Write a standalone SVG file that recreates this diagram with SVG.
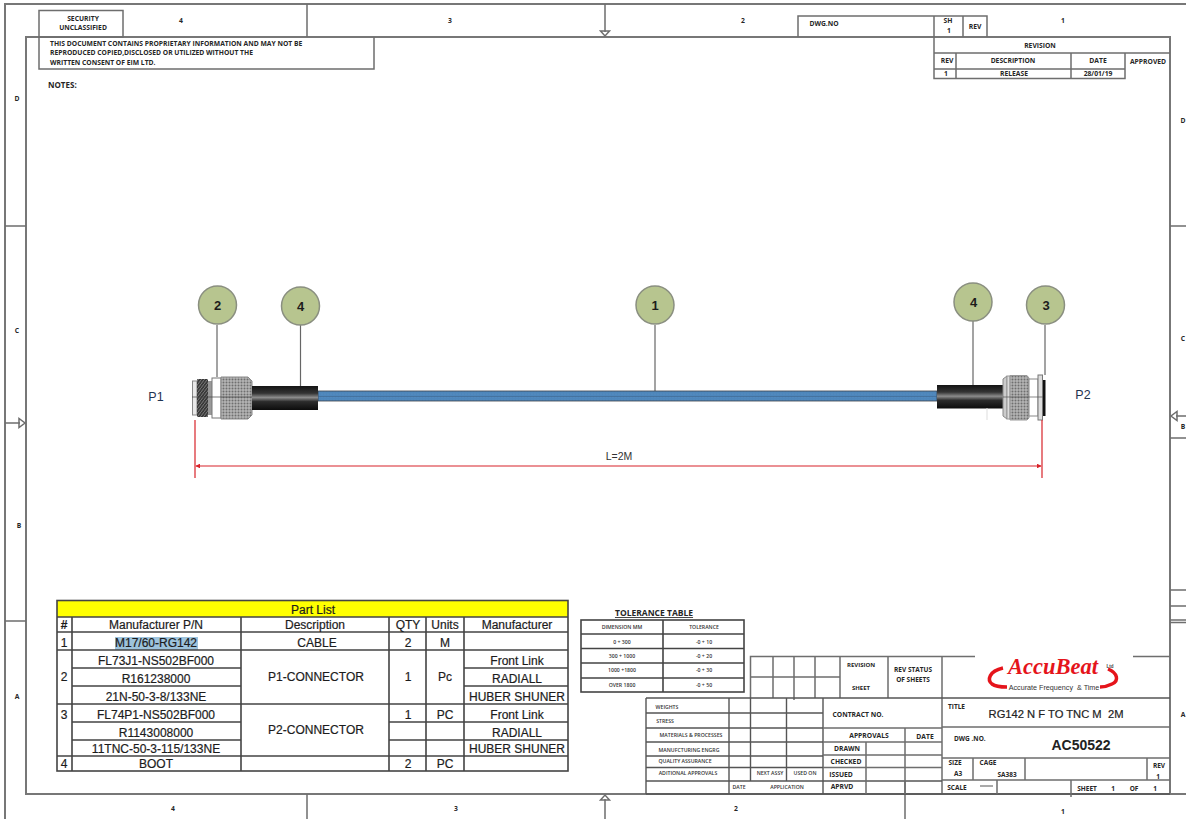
<svg xmlns="http://www.w3.org/2000/svg" width="1186" height="819" viewBox="0 0 1186 819">
<style>
.f{fill:none;stroke:#777;stroke-width:2}
.g{fill:none;stroke:#6e6e6e;stroke-width:1.5}
.k{fill:none;stroke:#444;stroke-width:1.6}
.t{font-family:"Liberation Sans",Arial,sans-serif;font-size:12px;fill:#1c1c1c;stroke:#1c1c1c;stroke-width:0.2;text-anchor:middle}
.s{font-family:"Open Sans","Noto Sans",sans-serif;font-weight:700;font-size:6.750px;fill:#262626;text-anchor:middle}
.xs{font-family:"Open Sans","Noto Sans",sans-serif;font-weight:600;font-size:5.200px;fill:#333;text-anchor:middle}
.l{font-family:"Liberation Sans",Arial,sans-serif;font-size:12.500px;fill:#1f3350;text-anchor:middle}
.n{font-family:"Liberation Sans",Arial,sans-serif;font-weight:700;font-size:13px;fill:#1c1c1c;text-anchor:middle}
.b{fill:#b7c58f;stroke:#8a8f80;stroke-width:1.500}
.r{stroke:#d8232a;stroke-width:1.200;fill:none}
.ld{stroke:#666;stroke-width:1.200;fill:none}
</style>
<defs>
<pattern id="kn" width="3" height="3" patternUnits="userSpaceOnUse"><rect width="3" height="3" fill="#b5b5b5"/><circle cx="1.500" cy="1.500" r="1" fill="#6f6f6f"/></pattern>
<pattern id="th" width="3" height="4" patternUnits="userSpaceOnUse"><rect width="3" height="4" fill="#3a3a3a"/><path d="M0 4L3 0" stroke="#8a8a8a" stroke-width="0.800"/></pattern>
<pattern id="cb" width="3" height="3" patternUnits="userSpaceOnUse"><rect width="3" height="3" fill="#4d86bb"/><circle cx="1" cy="1" r="0.600" fill="#5f93c2"/></pattern>
<linearGradient id="bt" x1="0" y1="0" x2="0" y2="1"><stop offset="0" stop-color="#141414"/><stop offset="0.3" stop-color="#333"/><stop offset="0.48" stop-color="#8b8b8b"/><stop offset="0.65" stop-color="#2c2c2c"/><stop offset="1" stop-color="#0c0c0c"/></linearGradient>
<marker id="ar" markerWidth="4" markerHeight="4" refX="3.500" refY="2" orient="auto-start-reverse"><path d="M0 0L4 2L0 4Z" fill="#d8232a"/></marker>
</defs>
<rect width="1186" height="819" fill="#fff"/>

<g id="sheet-frame">
<path class="f" d="M5 819V4H1186"/>
<rect class="f" x="26" y="37" width="1144" height="757"/>
<path class="f" d="M1170 794H1186"/>
<path class="g" d="M307 4V37M307 794V819M905 781V819M5 226H26M5 621H26M1170 226H1186M1170 438H1186M1170 590H1186M1170 606H1186M1170 620H1186M1170 622.500H1186"/>
<path class="g" d="M605 4V32M605 799V819M5 423H20M1176 416H1186"/>
<path class="g" d="M600.500 31H609.500L605 36ZM600.500 800H609.500L605 795ZM19 418.500V427.500L25 423ZM1177 411.500V420.500L1171 416Z" fill="#fff"/>
<text class="s" x="181" y="23">4</text><text class="s" x="450" y="23">3</text><text class="s" x="743" y="23">2</text><text class="s" x="1063" y="23">1</text>
<text class="s" x="173" y="811">4</text><text class="s" x="456" y="811">3</text><text class="s" x="736" y="811">2</text><text class="s" x="1063" y="814">1</text>
<text class="s" x="17" y="101">D</text><text class="s" x="17" y="333">C</text><text class="s" x="19" y="528">B</text><text class="s" x="17" y="699">A</text>
<text class="s" x="1183" y="123">D</text><text class="s" x="1183" y="341">C</text><text class="s" x="1183" y="429">B</text><text class="s" x="1183" y="717">A</text>
</g>

<g id="header-left">
<rect class="g" x="39" y="10.500" width="84" height="26.500"/>
<text class="s" x="83" y="21">SECURITY</text><text class="s" x="83" y="30">UNCLASSIFIED</text>
<path class="g" d="M39 37V69H374V37"/>
<text class="s" x="50" y="46" style="text-anchor:start">THIS DOCUMENT CONTAINS PROPRIETARY INFORMATION AND MAY NOT BE</text>
<text class="s" x="50" y="55" style="text-anchor:start">REPRODUCED COPIED,DISCLOSED OR UTILIZED WITHOUT THE</text>
<text class="s" x="50" y="65" style="text-anchor:start">WRITTEN CONSENT OF EIM LTD.</text>
<text class="s" x="48" y="88" style="text-anchor:start;font-size:8px">NOTES:</text>
</g>

<g id="header-right">
<path class="g" d="M798 37V16H987V37M934 16V37M963 16V37"/>
<text class="s" x="824" y="26">DWG.NO</text>
<text class="s" x="948" y="23">SH</text><text class="s" x="949" y="33">1</text><text class="s" x="975" y="29">REV</text>
<path class="g" d="M934 37V78.500H1125V69M934 53H1170M934 69H1125M956 53V78.500M1071 53V78.500M1125 53V69"/>
<text class="s" x="1040" y="48">REVISION</text>
<text class="s" x="947" y="63">REV</text><text class="s" x="1013" y="63">DESCRIPTION</text><text class="s" x="1098" y="63">DATE</text><text class="s" x="1148" y="64">APPROVED</text>
<text class="s" x="946" y="76">1</text><text class="s" x="1014" y="76">RELEASE</text><text class="s" x="1098" y="76">28/01/19</text>
</g>

<g id="connectors">
<path class="ld" d="M217 325V377"/>
<path class="ld" d="M300.500 325V386"/>
<path class="ld" d="M655 325V397"/>
<path class="ld" d="M973 321V385"/>
<path class="ld" d="M1045 325V375"/>
</g>

<g id="cable">
<rect x="318" y="391" width="619" height="10" fill="url(#cb)" stroke="#3a3f47" stroke-width="0.800"/>
<path d="M318 396.500H937" stroke="#3b5f85" stroke-width="0.500"/>
</g>

<g id="connector-p1">
<rect x="192.500" y="381" width="4.500" height="34" fill="#e8e8e8" stroke="#888"/>
<rect x="197" y="379" width="11" height="38" rx="1" fill="url(#th)"/>
<rect x="208" y="381" width="4" height="34" fill="#999"/>
<rect x="212" y="378" width="9" height="40" fill="#fff" stroke="#777"/>
<path d="M221 377H248L252 381V415L248 419H221Z" fill="url(#kn)" stroke="#888"/>
<rect x="252" y="386" width="66" height="24" fill="url(#bt)"/>
<path d="M192 397H252" stroke="#444" stroke-width="0.700"/>
</g>

<g id="connector-p2">
<rect x="937" y="385" width="66" height="23.500" fill="url(#bt)"/>
<path d="M1003 379L1007 376V419L1003 416Z" fill="#ccc" stroke="#888"/>
<rect x="1007" y="376" width="3" height="43" fill="#ddd" stroke="#999"/>
<path d="M1010 375.500H1027L1029 378V418L1027 420H1010Z" fill="url(#kn)" stroke="#999"/>
<rect x="1029" y="379" width="9" height="37" fill="#fff" stroke="#888"/>
<rect x="1038" y="375" width="4.500" height="45" fill="#ddd" stroke="#777"/>
<rect x="1043" y="380" width="2.500" height="36" fill="#111"/>
<path d="M1003 397H1043" stroke="#555" stroke-width="0.700"/>
<path d="M987 408V420" stroke="#ddd" stroke-width="1"/>
</g>

<g id="balloon-2"><circle class="b" cx="217.500" cy="305" r="19"/><text class="n" x="217.500" y="310">2</text></g>
<g id="balloon-4a"><circle class="b" cx="300.500" cy="306" r="19"/><text class="n" x="300.500" y="311">4</text></g>
<g id="balloon-1"><circle class="b" cx="655" cy="305" r="19"/><text class="n" x="655" y="310">1</text></g>
<g id="balloon-4b"><circle class="b" cx="973" cy="302" r="19"/><text class="n" x="973.500" y="307">4</text></g>
<g id="balloon-3"><circle class="b" cx="1045.500" cy="305" r="19"/><text class="n" x="1046" y="310">3</text></g>

<g id="labels">
<text class="l" x="156" y="401">P1</text>
<text class="l" x="1083" y="399">P2</text>
</g>

<g id="dimension">
<path class="r" d="M195 420V478M1042 420V478"/>
<path class="r" d="M196 466H1041" marker-start="url(#ar)" marker-end="url(#ar)"/>
<text x="619" y="460" style="font-family:'Liberation Sans',sans-serif;font-size:10.500px;fill:#333;text-anchor:middle">L=2M</text>
</g>

<g id="part-list">
<rect x="57" y="600.500" width="511" height="16.500" fill="#ffff00"/>
<rect x="115" y="637" width="83" height="13" fill="#9dc3dc"/>
<rect class="k" x="57" y="600.500" width="511" height="170.500"/>
<path class="k" d="M57 617H568M57 632H568M57 650H568M57 704H568M57 756H568M72 617V771M241 617V771M389 617V771M426 617V771M464 617V771"/>
<path class="k" d="M72 668H241M72 686H241M72 722H241M72 740H241M389 722H568M389 740H568M464 668H568M464 686H568"/>
<text class="t" x="313" y="614">Part List</text>
<text class="t" x="64" y="629" style="font-weight:700">#</text><text class="t" x="156" y="629">Manufacturer P/N</text><text class="t" x="315" y="629">Description</text><text class="t" x="408" y="629">QTY</text><text class="t" x="445" y="629">Units</text><text class="t" x="517" y="629">Manufacturer</text>
<text class="t" x="64" y="647">1</text><text class="t" x="156" y="647">M17/60-RG142</text><text class="t" x="317" y="647">CABLE</text><text class="t" x="408" y="647">2</text><text class="t" x="445" y="647">M</text>
<text class="t" x="156" y="665">FL73J1-NS502BF000</text><text class="t" x="517" y="665">Front Link</text>
<text class="t" x="64" y="681">2</text><text class="t" x="316" y="681">P1-CONNECTOR</text><text class="t" x="408" y="681">1</text><text class="t" x="445" y="681">Pc</text>
<text class="t" x="156" y="683">R161238000</text><text class="t" x="517" y="683">RADIALL</text>
<text class="t" x="156" y="701">21N-50-3-8/133NE</text><text class="t" x="517" y="701">HUBER SHUNER</text>
<text class="t" x="64" y="719">3</text><text class="t" x="156" y="719">FL74P1-NS502BF000</text><text class="t" x="408" y="719">1</text><text class="t" x="445" y="719">PC</text><text class="t" x="517" y="719">Front Link</text>
<text class="t" x="156" y="737">R1143008000</text><text class="t" x="316" y="734">P2-CONNECTOR</text><text class="t" x="517" y="737">RADIALL</text>
<text class="t" x="156" y="753">11TNC-50-3-115/133NE</text><text class="t" x="517" y="753">HUBER SHUNER</text>
<text class="t" x="64" y="768">4</text><text class="t" x="156" y="768">BOOT</text><text class="t" x="408" y="768">2</text><text class="t" x="445" y="768">PC</text>
</g>

<g id="tolerance-table">
<text class="s" x="654" y="616" style="font-size:8.500px;text-decoration:underline">TOLERANCE TABLE</text>
<rect class="k" x="581" y="620" width="163" height="72"/>
<path class="k" d="M581 634H744M581 648.500H744M581 663H744M581 678H744M663 620V692"/>
<text class="xs" x="622" y="629">DIMENSION MM</text><text class="xs" x="704" y="629">TOLERANCE</text>
<text class="xs" x="622" y="644">0 + 300</text><text class="xs" x="704" y="644">-0 + 10</text>
<text class="xs" x="622" y="658">300 + 1000</text><text class="xs" x="704" y="658">-0 + 20</text>
<text class="xs" x="622" y="672">1000 +1800</text><text class="xs" x="704" y="672">-0 + 30</text>
<text class="xs" x="622" y="687">OVER 1800</text><text class="xs" x="704" y="687">-0 + 50</text>
</g>

<g id="title-block">
<path class="g" d="M750.500 698V656.500H975M1133 656.500H1170M750.500 677H840M773 656.500V698M794 656.500V700M815 656.500V698M840 656.500V698M888 656.500V698M942 656.500V794"/>
<path class="k" style="stroke:#555;stroke-width:1.400" d="M646 698H1170M646 713H823M646 728H823M646 742H823M646 756H823M646 767.500H823M646 781H942M646 794H1170M646 698V794M729 698V794M750.500 698V781M786.500 698V781M823 698V794"/>
<path class="g" d="M823 728H942M823 742H942M823 755H942M823 767.500H942M866 742V794M905 728V794M942 727H1170M942 758H1170M942 780H1170M973 758V780M1025 758V780M1147 758V780M997 780V794M1071 780V797"/>
<text class="xs" x="667" y="709">WEIGHTS</text><text class="xs" x="665" y="723">STRESS</text><text class="xs" x="691" y="737">MATERIALS &amp; PROCESSES</text><text class="xs" x="689" y="752">MANUFCTURING ENGRG</text><text class="xs" x="685" y="763">QUALITY ASSURANCE</text><text class="xs" x="688" y="775">ADITIONAL APPROVALS</text>
<text class="xs" x="739" y="789">DATE</text><text class="xs" x="770" y="775">NEXT ASSY</text><text class="xs" x="805" y="775">USED ON</text><text class="xs" x="787" y="789">APPLICATION</text>
<text class="s" x="861" y="667" style="font-size:6px">REVISION</text><text class="s" x="861" y="690" style="font-size:6px">SHEET</text>
<text class="s" x="913" y="672" style="font-size:6.500px">REV STATUS</text><text class="s" x="913" y="682" style="font-size:6.500px">OF SHEETS</text>
<text class="s" x="858" y="717">CONTRACT NO.</text><text class="s" x="869" y="738">APPROVALS</text><text class="s" x="925" y="739">DATE</text>
<text class="s" x="847" y="751">DRAWN</text><text class="s" x="846" y="764">CHECKED</text><text class="s" x="841" y="777">ISSUED</text><text class="s" x="842" y="789">APRVD</text>
<text class="s" x="948" y="709" style="text-anchor:start;font-size:6.500px">TITLE</text>
<text x="1056" y="718" xml:space="preserve" style="font-family:'Liberation Sans',sans-serif;font-size:11.200px;fill:#222;stroke:#222;stroke-width:0.200;text-anchor:middle">RG142 N F TO TNC M  2M</text>
<text class="s" x="954" y="741" style="text-anchor:start;font-size:6.500px">DWG .NO.</text>
<text x="1081" y="750" style="font-family:'Liberation Sans',sans-serif;font-weight:700;font-size:14px;fill:#222;text-anchor:middle">AC50522</text>
<text class="s" x="955" y="765" style="font-size:6.500px">SIZE</text><text class="s" x="958" y="776" style="font-size:6.500px">A3</text>
<text class="s" x="988" y="765" style="font-size:6.500px">CAGE</text><text class="s" x="1007" y="777" style="font-size:6.500px">SA383</text>
<text class="s" x="1159" y="768" style="font-size:6.500px">REV</text><text class="s" x="1158" y="779" style="font-size:6.500px">1</text>
<text class="s" x="957" y="790" style="font-size:6.500px">SCALE</text><path d="M980 786H993" stroke="#555" stroke-width="1"/>
<text class="s" x="1087" y="791" style="font-size:6.500px">SHEET</text><text class="s" x="1113" y="791" style="font-size:6.500px">1</text><text class="s" x="1134" y="791" style="font-size:6.500px">OF</text><text class="s" x="1155" y="791" style="font-size:6.500px">1</text>
</g>

<g id="logo">
<path d="M1003 668C989 671 987 680 992 684C996 687 1004 687 1007 687" fill="none" stroke="#e5141b" stroke-width="3.500"/>
<path d="M1108 669C1118 673 1119 681 1112 684C1108 686 1103 687 1100 687" fill="none" stroke="#e5141b" stroke-width="3.500"/>
<text x="1053" y="674" style="font-family:'Liberation Serif',serif;font-style:italic;font-weight:700;font-size:22.500px;fill:#e5141b;text-anchor:middle">AccuBeat</text>
<text x="1110" y="668" style="font-family:'Liberation Sans',sans-serif;font-weight:700;font-size:4.500px;fill:#444;text-anchor:middle">Ltd</text>
<text x="1054" y="689.500" xml:space="preserve" style="font-family:'Liberation Sans',sans-serif;font-size:7.200px;fill:#333;text-anchor:middle">Accurate Frequency  &amp; Time</text>
</g>
</svg>
